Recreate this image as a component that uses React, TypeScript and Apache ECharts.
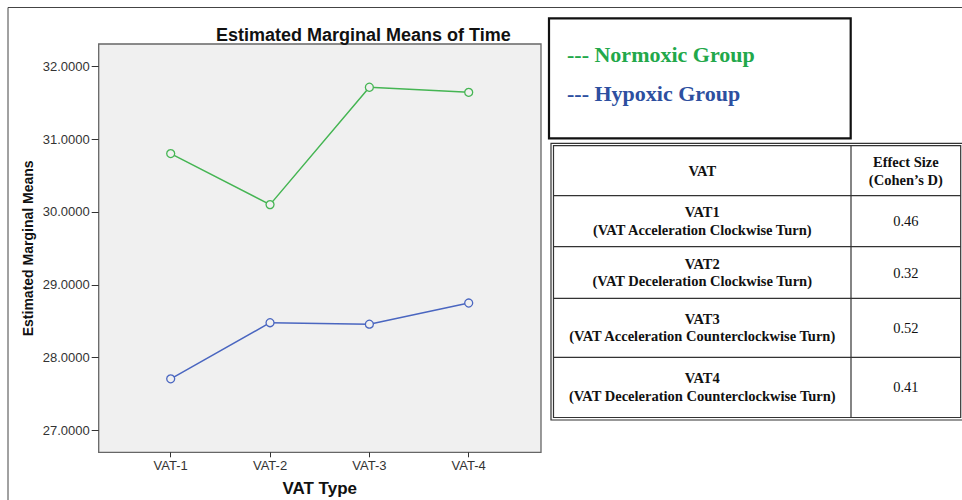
import React, { useEffect, useRef } from "react";
import * as echarts from "echarts";

const categories = ["VAT-1", "VAT-2", "VAT-3", "VAT-4"];
const normoxicMeans = [30.8, 30.1, 31.71, 31.64];
const hypoxicMeans = [27.71, 28.48, 28.46, 28.75];
const yMin = 27;
const yMax = 32;
const yStep = 1;

const chartTitle = "Estimated Marginal Means of Time";
const yAxisTitle = "Estimated Marginal Means";
const xAxisTitle = "VAT Type";

const legendLabels = ["--- Normoxic Group", "--- Hypoxic Group"];
const tableHeaders = ["VAT", "Effect Size", "(Cohen\u2019s D)"];
const vatCodes = ["VAT1", "VAT2", "VAT3", "VAT4"];
const vatDescriptions = [
  "(VAT Acceleration Clockwise Turn)",
  "(VAT Deceleration Clockwise Turn)",
  "(VAT Acceleration Counterclockwise Turn)",
  "(VAT Deceleration Counterclockwise Turn)",
];
const effectSizes = ["0.46", "0.32", "0.52", "0.41"];

const GREEN = "#45b553";
const BLUE = "#4a66c0";
const SANS = '"Liberation Sans", Arial, sans-serif';
const SERIF = '"Liberation Serif", "Times New Roman", serif';

function buildGraphic() {
  const els: any[] = [];
  // outer frame (top & left)
  els.push({
    type: "polyline",
    silent: true,
    shape: { points: [[8, 500], [8, 7.5], [962, 7.5]] },
    style: { stroke: "#444", lineWidth: 1, fill: null },
  });
  // legend box
  els.push({
    type: "rect",
    shape: { x: 549, y: 18.3, width: 301.7, height: 120 },
    style: { fill: "#fff", stroke: "#111", lineWidth: 2.2 },
  });
  const legendColors = ["#22a84a", "#2d4fa0"];
  const legendY = [54.5, 93];
  legendLabels.forEach((t, i) => {
    els.push({
      type: "text",
      x: 567,
      y: legendY[i],
      style: {
        text: t,
        fill: legendColors[i],
        font: `bold 22px ${SERIF}`,
        verticalAlign: "middle",
        textAlign: "left",
      },
    });
  });
  // table frame (double lines)
  const tx0 = 551, tx1 = 963, ty0 = 143.3, ty1 = 420;
  els.push({
    type: "rect",
    shape: { x: tx0, y: ty0, width: tx1 - tx0, height: ty1 - ty0 },
    style: { fill: "#fff", stroke: "#333", lineWidth: 1.2 },
  });
  const ix0 = 553.5, ix1 = 960.7, iy0 = 145.7, iy1 = 417.5;
  els.push({
    type: "rect",
    shape: { x: ix0, y: iy0, width: ix1 - ix0, height: iy1 - iy0 },
    style: { fill: "#fff", stroke: "#333", lineWidth: 1.2 },
  });
  const colX = 851;
  els.push({
    type: "line",
    shape: { x1: colX, y1: iy0, x2: colX, y2: iy1 },
    style: { stroke: "#333", lineWidth: 1.2 },
  });
  const rowEdges = [iy0, 195.7, 246.7, 298.3, 357.3, iy1];
  for (let r = 1; r < rowEdges.length - 1; r++) {
    els.push({
      type: "line",
      shape: { x1: ix0, y1: rowEdges[r], x2: ix1, y2: rowEdges[r] },
      style: { stroke: "#333", lineWidth: 1.2 },
    });
  }
  const c1 = (ix0 + colX) / 2;
  const c2 = (colX + ix1) / 2;
  const boldFont = `bold 14.5px ${SERIF}`;
  const txt = (text: string, x: number, y: number, font: string) => ({
    type: "text",
    x,
    y,
    style: { text, fill: "#111", font, textAlign: "center", verticalAlign: "middle" },
  });
  els.push(txt(tableHeaders[0], c1, 170.7, boldFont));
  els.push(txt(tableHeaders[1], c2, 162.3, boldFont));
  els.push(txt(tableHeaders[2], c2, 180, boldFont));
  vatCodes.forEach((code, i) => {
    const top = rowEdges[i + 1];
    const bot = rowEdges[i + 2];
    const mid = (top + bot) / 2;
    els.push(txt(code, c1, mid - 9, boldFont));
    els.push(txt(vatDescriptions[i], c1, mid + 8.5, boldFont));
    els.push(txt(effectSizes[i], c2, mid, `14.5px ${SERIF}`));
  });
  return els;
}

export default function App() {
  const ref = useRef<HTMLDivElement>(null);
  useEffect(() => {
    if (!ref.current) return;
    const chart = echarts.init(ref.current, null, { renderer: "svg" });
    const frameLeft = 98.7, frameRight = 541, frameTop = 44, frameBottom = 452.3;
    const dataLeft = 170.7, dataRight = 468.7, dataTop = 66.1, dataBottom = 430.6;
    const option: any = {
      animation: false,
      backgroundColor: "#fff",
      textStyle: { fontFamily: SANS },
      title: {
        text: chartTitle,
        left: 211,
        top: 21,
        textStyle: { fontFamily: SANS, fontSize: 18, fontWeight: "bold", color: "#111" },
      },
      grid: [
        {
          show: true,
          left: frameLeft,
          right: 962 - frameRight,
          top: frameTop,
          bottom: 500 - frameBottom,
          backgroundColor: "#f0f0f0",
          borderColor: "#666",
          borderWidth: 1.3,
          outerBoundsMode: "none",
        },
        {
          left: dataLeft,
          right: 962 - dataRight,
          top: dataTop,
          bottom: 500 - dataBottom,
          outerBoundsMode: "none",
        },
      ],
      xAxis: [
        { gridIndex: 0, type: "value", show: false, min: 0, max: 1 },
        {
          gridIndex: 1,
          type: "category",
          data: categories,
          boundaryGap: false,
          offset: frameBottom - dataBottom,
          axisLine: { show: false },
          axisTick: { show: true, length: 5, lineStyle: { color: "#333" } },
          axisLabel: { fontSize: 13, color: "#333", margin: 7, fontFamily: SANS },
          splitLine: { show: false },
          name: xAxisTitle,
          nameLocation: "middle",
          nameGap: 28,
          nameTextStyle: { fontSize: 17, fontWeight: "bold", color: "#111", fontFamily: SANS },
        },
      ],
      yAxis: [
        { gridIndex: 0, type: "value", show: false, min: 0, max: 1 },
        {
          gridIndex: 1,
          type: "value",
          min: yMin,
          max: yMax,
          interval: yStep,
          offset: dataLeft - frameLeft,
          axisLine: { show: false },
          axisTick: { show: true, length: 7, lineStyle: { color: "#333" } },
          axisLabel: {
            fontSize: 13,
            color: "#333",
            margin: 9,
            fontFamily: SANS,
            formatter: (v: number) => v.toFixed(4),
          },
          splitLine: { show: false },
          name: yAxisTitle,
          nameLocation: "middle",
          nameGap: 64,
          nameTextStyle: { fontSize: 14, fontWeight: "bold", color: "#111", fontFamily: SANS },
        },
      ],
      series: [
        {
          name: "Normoxic Group",
          type: "line",
          xAxisIndex: 1,
          yAxisIndex: 1,
          data: normoxicMeans,
          symbol: "circle",
          symbolSize: 8,
          lineStyle: { color: GREEN, width: 1.5 },
          itemStyle: { color: "#f0f0f0", borderColor: GREEN, borderWidth: 1.3 },
        },
        {
          name: "Hypoxic Group",
          type: "line",
          xAxisIndex: 1,
          yAxisIndex: 1,
          data: hypoxicMeans,
          symbol: "circle",
          symbolSize: 8,
          lineStyle: { color: BLUE, width: 1.5 },
          itemStyle: { color: "#f0f0f0", borderColor: BLUE, borderWidth: 1.3 },
        },
      ],
      graphic: buildGraphic(),
    };
    chart.setOption(option);
    return () => chart.dispose();
  }, []);
  return (
    <div
      ref={ref}
      style={{ position: "fixed", left: 0, top: 0, width: 962, height: 500 }}
    />
  );
}
